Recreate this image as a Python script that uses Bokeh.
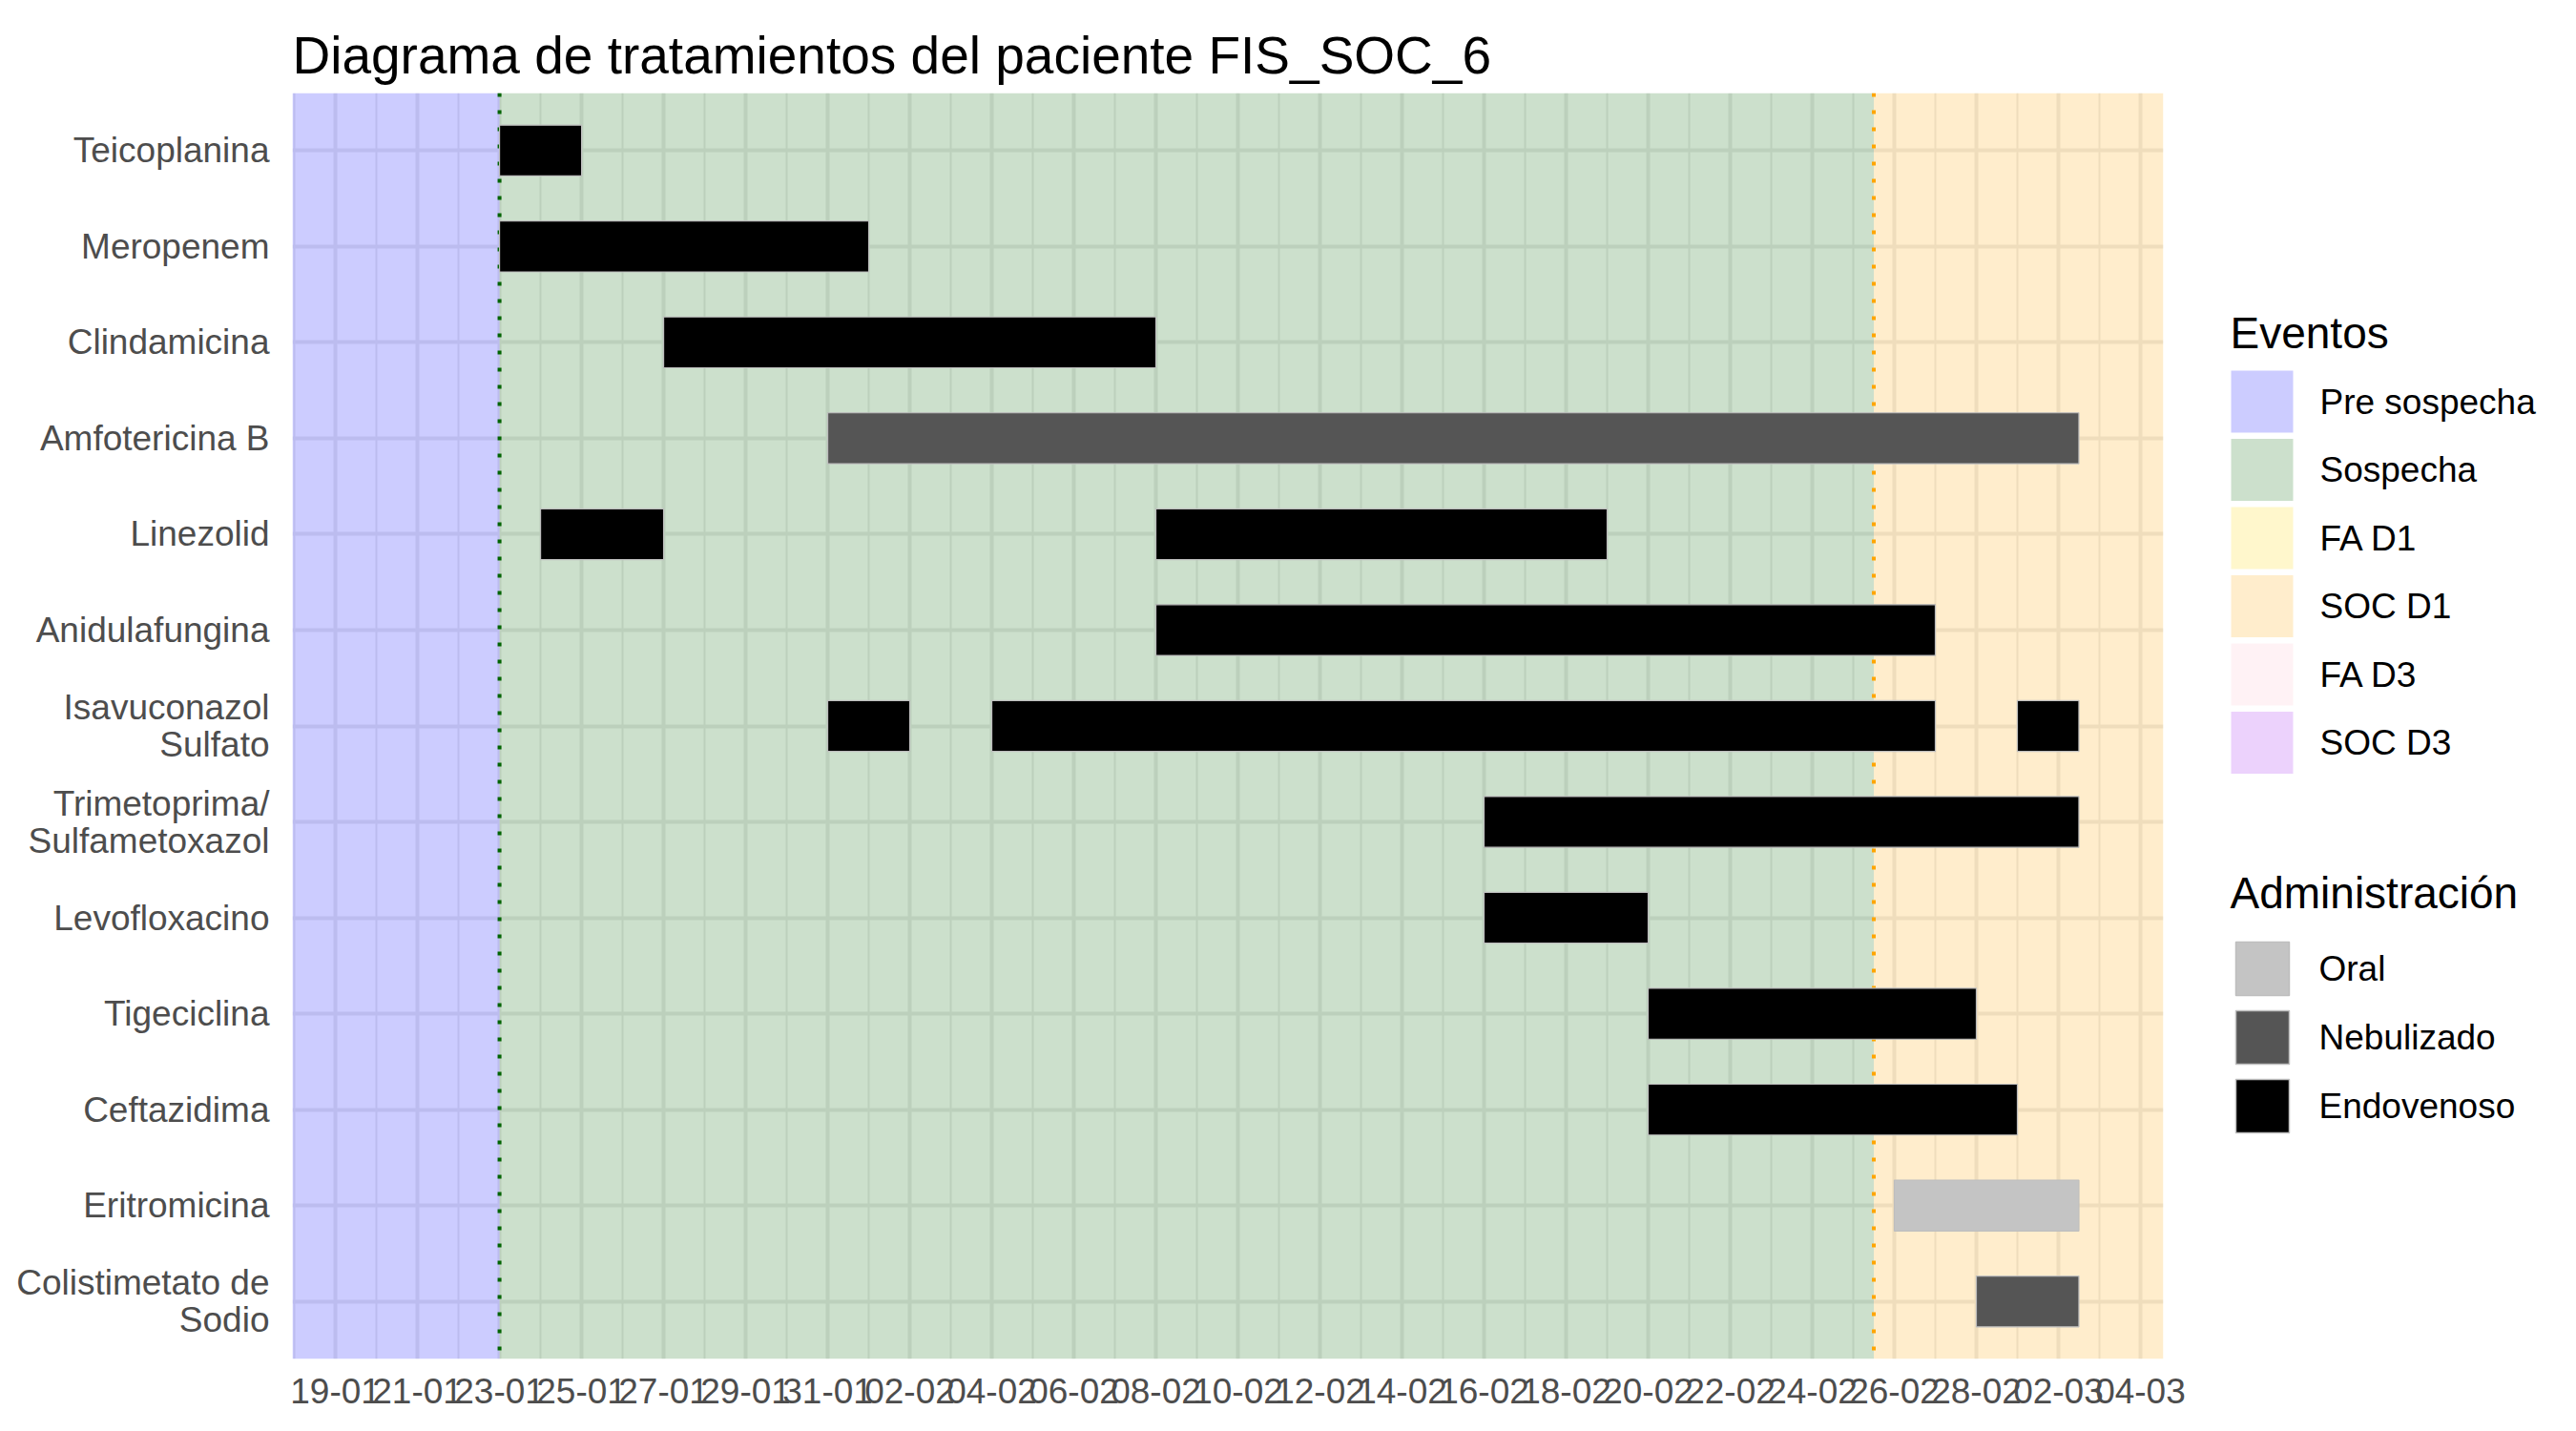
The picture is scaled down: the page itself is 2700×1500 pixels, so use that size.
import pandas as pd
from bokeh.plotting import figure
from bokeh.layouts import row
from bokeh.models import Range1d, FixedTicker, ColumnDataSource
from bokeh.core.properties import value
from bokeh.embed import file_html
from bokeh.resources import INLINE

# ---------------- data ----------------
title_text = "Diagrama de tratamientos del paciente FIS_SOC_6"
YEAR = 2023

drugs = ["Teicoplanina", "Meropenem", "Clindamicina", "Amfotericina B", "Linezolid",
         "Anidulafungina", "Isavuconazol\nSulfato", "Trimetoprima/\nSulfametoxazol",
         "Levofloxacino", "Tigeciclina", "Ceftazidima", "Eritromicina",
         "Colistimetato de\nSodio"]

seg_drug = ["Teicoplanina", "Meropenem", "Clindamicina", "Amfotericina B",
            "Linezolid", "Linezolid", "Anidulafungina",
            "Isavuconazol\nSulfato", "Isavuconazol\nSulfato", "Isavuconazol\nSulfato",
            "Trimetoprima/\nSulfametoxazol", "Levofloxacino", "Tigeciclina",
            "Ceftazidima", "Eritromicina", "Colistimetato de\nSodio"]
seg_start = ["2023-01-23", "2023-01-23", "2023-01-27", "2023-01-31",
             "2023-01-24", "2023-02-08", "2023-02-08",
             "2023-01-31", "2023-02-04", "2023-03-01",
             "2023-02-16", "2023-02-16", "2023-02-20",
             "2023-02-20", "2023-02-26", "2023-02-28"]
seg_end = ["2023-01-25", "2023-02-01", "2023-02-08", "2023-03-02 12:00",
           "2023-01-27", "2023-02-19", "2023-02-27",
           "2023-02-02", "2023-02-27", "2023-03-02 12:00",
           "2023-03-02 12:00", "2023-02-20", "2023-02-28",
           "2023-03-01", "2023-03-02 12:00", "2023-03-02 12:00"]
seg_route = ["Endovenoso", "Endovenoso", "Endovenoso", "Nebulizado",
             "Endovenoso", "Endovenoso", "Endovenoso",
             "Endovenoso", "Endovenoso", "Endovenoso",
             "Endovenoso", "Endovenoso", "Endovenoso",
             "Endovenoso", "Oral", "Nebulizado"]

routes = ["Oral", "Nebulizado", "Endovenoso"]
route_colors = ["#C4C4C4", "#555555", "#000000"]

event_names = ["Pre sospecha", "Sospecha", "FA D1", "SOC D1", "FA D3", "SOC D3"]
event_colors = ["#0000FF", "#006400", "#FFD700", "#FFA500", "#FFC0CB", "#A020F0"]
ev_name = ["Pre sospecha", "Sospecha", "SOC D1"]
ev_start = ["-inf", "2023-01-23", "2023-02-25 12:00"]
ev_end = ["2023-01-23", "2023-02-25 12:00", "inf"]

mark_dates = ["2023-01-23", "2023-02-25 12:00"]
mark_colors = ["#006400", "#FFA500"]

x_limits = ["2023-01-17 22:50", "2023-03-04 13:25"]

tick_labels = ["19-01", "21-01", "23-01", "25-01", "27-01", "29-01", "31-01",
               "02-02", "04-02", "06-02", "08-02", "10-02", "12-02", "14-02",
               "16-02", "18-02", "20-02", "22-02", "24-02", "26-02", "28-02",
               "02-03", "04-03"]

# ---------------- helpers ----------------
origin = pd.Timestamp("2023-01-23")


def dx(s):
    return (pd.Timestamp(s) - origin) / pd.Timedelta(days=1)


X0, X1 = dx(x_limits[0]), dx(x_limits[1])


def dxe(s):
    if s == "-inf":
        return X0
    if s == "inf":
        return X1
    return dx(s)


def tick_pos(lbl):
    d, m = lbl.split("-")
    return dx(f"{YEAR}-{m}-{d}")


ticks = [tick_pos(t) for t in tick_labels]
minor = [t + 1 for t in ticks[:-1]] + [ticks[0] - 1]

N = len(drugs)
ypos = {d: i + 1 for i, d in enumerate(drugs)}

FONT = "Liberation Sans"
MAIN_W = 2300
FRAME_RIGHT = 2267
BORDER_TOP = 97
BORDER_BOTTOM = 76

p = figure(width=MAIN_W, height=1500, output_backend="svg", toolbar_location=None,
           x_range=Range1d(X0, X1), y_range=Range1d(N + 0.6, 0.4),
           min_border_left=306, min_border_right=MAIN_W - FRAME_RIGHT,
           min_border_top=BORDER_TOP, min_border_bottom=BORDER_BOTTOM, title=title_text)
p.outline_line_color = None
p.title.text_font = FONT
p.title.text_font_size = "55px"
p.title.text_font_style = "normal"
p.title.text_color = "#000000"
p.title.standoff = 18
p.title.offset = 0

# axes
p.xaxis.ticker = FixedTicker(ticks=ticks, minor_ticks=minor)
p.xaxis.major_label_overrides = {t: l for t, l in zip(ticks, tick_labels)}
p.yaxis.ticker = FixedTicker(ticks=list(range(1, N + 1)))
p.yaxis.major_label_overrides = {i + 1: d for i, d in enumerate(drugs)}
for ax in (p.xaxis[0], p.yaxis[0]):
    ax.axis_line_color = None
    ax.major_tick_line_color = None
    ax.minor_tick_line_color = None
    ax.major_label_text_font = FONT
    ax.major_label_text_font_size = "37px"
    ax.major_label_text_color = "#4D4D4D"
p.xaxis.major_label_standoff = 14
p.yaxis.major_label_standoff = 18
p.yaxis.major_label_text_line_height = 0.95

p.xgrid.grid_line_color = "#EBEBEB"
p.xgrid.grid_line_width = 4
p.xgrid.minor_grid_line_color = "#EBEBEB"
p.xgrid.minor_grid_line_width = 2
p.ygrid.grid_line_color = "#EBEBEB"
p.ygrid.grid_line_width = 4

# event backgrounds
for name, col in zip(event_names, event_colors):
    idx = [i for i, n in enumerate(ev_name) if n == name]
    if not idx:
        continue
    src = ColumnDataSource(dict(
        left=[dxe(ev_start[i]) for i in idx],
        right=[dxe(ev_end[i]) for i in idx],
        top=[0.4 for _ in idx],
        bottom=[N + 0.6 for _ in idx]))
    p.quad(left="left", right="right", top="top", bottom="bottom",
           source=src, fill_color=col, fill_alpha=0.2, line_color=None)

# marker lines
for d, c in zip(mark_dates, mark_colors):
    x = dx(d)
    p.segment(x0=x, y0=0.4, x1=x, y1=N + 0.6, line_color=c, line_width=4,
              line_dash="4 14")

# treatment bars
BH = 0.53
for r, c in zip(routes, route_colors):
    idx = [i for i, rr in enumerate(seg_route) if rr == r]
    src = ColumnDataSource(dict(
        left=[dx(seg_start[i]) for i in idx],
        right=[dx(seg_end[i]) for i in idx],
        top=[ypos[seg_drug[i]] - BH / 2 for i in idx],
        bottom=[ypos[seg_drug[i]] + BH / 2 for i in idx]))
    p.quad(left="left", right="right", top="top", bottom="bottom",
           source=src, fill_color=c, line_color="#BEBEBE", line_width=1.2)

# ---------------- legend panel (page-pixel coordinates, y downwards) ----------------
LW = 2700 - MAIN_W
lp = figure(width=LW, height=1500, output_backend="svg", toolbar_location=None,
            x_axis_type=None, y_axis_type=None, x_range=Range1d(MAIN_W, 2700),
            y_range=Range1d(1500 - BORDER_BOTTOM, BORDER_TOP),
            min_border_left=0, min_border_right=0,
            min_border_top=BORDER_TOP, min_border_bottom=BORDER_BOTTOM)
lp.outline_line_color = None
lp.grid.visible = False

TX = 2337
# Eventos
ek_x, ek_y0, ek_size, ek_step = 2338, 388, 65, 71.5
lp.text(x=[TX], y=[348], text=["Eventos"], text_font=value(FONT),
        text_font_size="46px", text_color="#000000", text_baseline="middle")
ek_top = [ek_y0 + k * ek_step for k in range(len(event_names))]
lp.quad(left=[ek_x] * len(event_names), right=[ek_x + ek_size] * len(event_names),
        top=ek_top, bottom=[t + ek_size for t in ek_top],
        fill_color=event_colors, fill_alpha=0.2, line_color=None)
lp.text(x=[2431] * len(event_names), y=[t + ek_size / 2 for t in ek_top],
        text=event_names, text_font=value(FONT), text_font_size="37px",
        text_color="#000000", text_baseline="middle")

# Administración
ak_x, ak_y0, ak_size, ak_step = 2343, 987, 56, 72
lp.text(x=[TX], y=[935], text=["Administración"], text_font=value(FONT),
        text_font_size="46px", text_color="#000000", text_baseline="middle")
ak_top = [ak_y0 + k * ak_step for k in range(len(routes))]
lp.quad(left=[ak_x] * len(routes), right=[ak_x + ak_size] * len(routes),
        top=ak_top, bottom=[t + ak_size for t in ak_top],
        fill_color=route_colors, line_color="#BEBEBE", line_width=1.5)
lp.text(x=[2430] * len(routes), y=[t + ak_size / 2 for t in ak_top],
        text=routes, text_font=value(FONT), text_font_size="37px",
        text_color="#000000", text_baseline="middle")

layout = row(p, lp, spacing=0)
open("out.html", "w").write(file_html(layout, INLINE))
